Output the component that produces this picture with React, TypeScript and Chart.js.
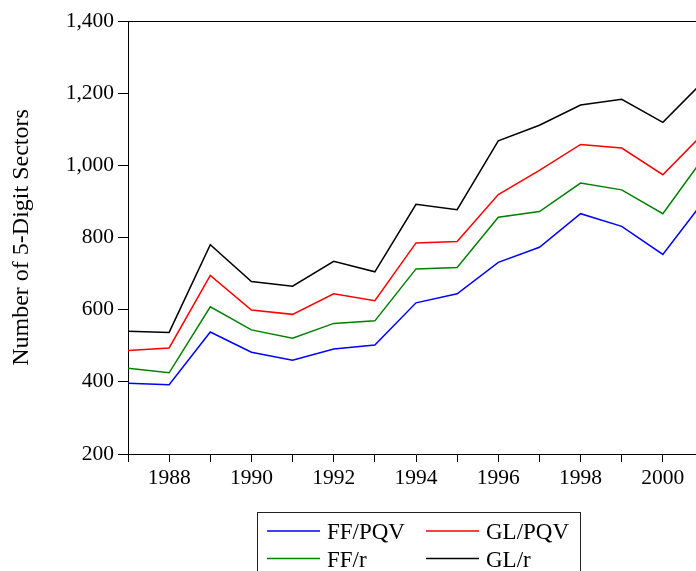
import React, { useEffect, useRef } from "react";
import { Chart, registerables } from "chart.js";

Chart.register(...registerables);

const years = [1987, 1988, 1989, 1990, 1991, 1992, 1993, 1994, 1995, 1996, 1997, 1998, 1999, 2000, 2001];
const ffPqv = [396, 392, 538, 482, 460, 491, 502, 619, 644, 731, 773, 866, 831, 753, 902];
const glPqv = [487, 494, 695, 599, 587, 644, 625, 785, 789, 919, 986, 1058, 1048, 974, 1090];
const ffR = [438, 425, 608, 544, 521, 562, 569, 713, 717, 856, 872, 951, 932, 866, 1023];
const glR = [540, 537, 780, 678, 665, 734, 705, 892, 877, 1068, 1111, 1167, 1183, 1119, 1234];
const seriesLabels = ["FF/PQV", "GL/PQV", "FF/r", "GL/r"];
const seriesColors = ["#0000ff", "#ff0000", "#008000", "#000000"];
const yTicks = [200, 400, 600, 800, 1000, 1200, 1400];
const yTitle = "Number of 5-Digit Sectors";

const FONT = "'Liberation Serif', 'Times New Roman', serif";

const frameAndLegend = {
  id: "frameAndLegend",
  afterDraw(chart: any) {
    const { ctx, chartArea } = chart;
    ctx.save();
    ctx.strokeStyle = "#000";
    ctx.lineWidth = 1;
    ctx.beginPath();
    ctx.moveTo(chartArea.left, chartArea.top + 0.5);
    ctx.lineTo(chartArea.right, chartArea.top + 0.5);
    ctx.moveTo(chartArea.right - 0.5, chartArea.top);
    ctx.lineTo(chartArea.right - 0.5, chartArea.bottom);
    ctx.stroke();

    // legend box
    const bx = 257.5, by = 512.5, bw = 323, bh = 80;
    ctx.strokeStyle = "#222";
    ctx.strokeRect(bx, by, bw, bh);
    const ds = chart.data.datasets;
    const colX = [267, 426];
    const rowY = [531, 558.5];
    ctx.font = `23px ${FONT}`;
    ctx.textBaseline = "alphabetic";
    ctx.textAlign = "left";
    ds.forEach((d: any, i: number) => {
      const c = i % 2;
      const r = Math.floor(i / 2);
      const x = colX[c];
      const y = rowY[r];
      ctx.strokeStyle = d.borderColor;
      ctx.lineWidth = 1.5;
      ctx.beginPath();
      ctx.moveTo(x, y);
      ctx.lineTo(x + 53, y);
      ctx.stroke();
      ctx.fillStyle = "#000";
      ctx.fillText(d.label, x + 60, y + 8);
    });
    ctx.restore();
  },
};

export default function App() {
  const ref = useRef<HTMLCanvasElement | null>(null);
  useEffect(() => {
    if (!ref.current) return;
    const chart = new Chart(ref.current, {
      type: "line",
      data: {
        datasets: [ffPqv, glPqv, ffR, glR].map((arr, i) => ({
          label: seriesLabels[i],
          data: years.map((y, j) => ({ x: y, y: arr[j] })),
          borderColor: seriesColors[i],
          backgroundColor: seriesColors[i],
          borderWidth: 1.5,
          pointRadius: 0,
          tension: 0,
          fill: false,
        })),
      },
      options: {
        responsive: false,
        animation: false,
        devicePixelRatio: 1,
        layout: { padding: { top: 21, right: 16, bottom: 0, left: 0 } },
        plugins: { legend: { display: false }, tooltip: { enabled: false } },
        scales: {
          x: {
            type: "linear",
            min: 1987,
            max: 2001,
            afterFit: (s: any) => {
              s.height = 117;
            },
            afterBuildTicks: (s: any) => {
              s.ticks = years.map((v) => ({ value: v }));
            },
            ticks: {
              autoSkip: false,
              maxRotation: 0,
              padding: 3,
              color: "#000",
              font: { family: FONT, size: 21.5 },
              callback: (v: any) => (Number(v) % 2 === 0 ? String(v) : ""),
            },
            grid: { drawOnChartArea: false, drawTicks: true, tickLength: 8, color: "#000" },
            border: { display: true, color: "#000", width: 1 },
          },
          y: {
            min: 200,
            max: 1400,
            afterFit: (s: any) => {
              s.width = 128;
            },
            afterBuildTicks: (s: any) => {
              s.ticks = yTicks.map((v) => ({ value: v }));
            },
            ticks: {
              padding: 4,
              color: "#000",
              font: { family: FONT, size: 21.5 },
              callback: (v: any) => Number(v).toLocaleString("en-US"),
            },
            grid: { drawOnChartArea: false, drawTicks: true, tickLength: 10, color: "#000" },
            border: { display: true, color: "#000", width: 1 },
            title: {
              display: true,
              text: yTitle,
              color: "#000",
              font: { family: FONT, size: 24 },
              padding: { top: 7.6, bottom: 0 },
            },
          },
        },
      },
      plugins: [frameAndLegend],
    } as any);
    return () => chart.destroy();
  }, []);
  return (
    <div
      style={{
        position: "fixed",
        left: 0,
        top: 0,
        width: 696,
        height: 571,
        overflow: "hidden",
        background: "#fff",
      }}
    >
      <canvas ref={ref} width={720} height={571} style={{ display: "block" }} />
    </div>
  );
}
